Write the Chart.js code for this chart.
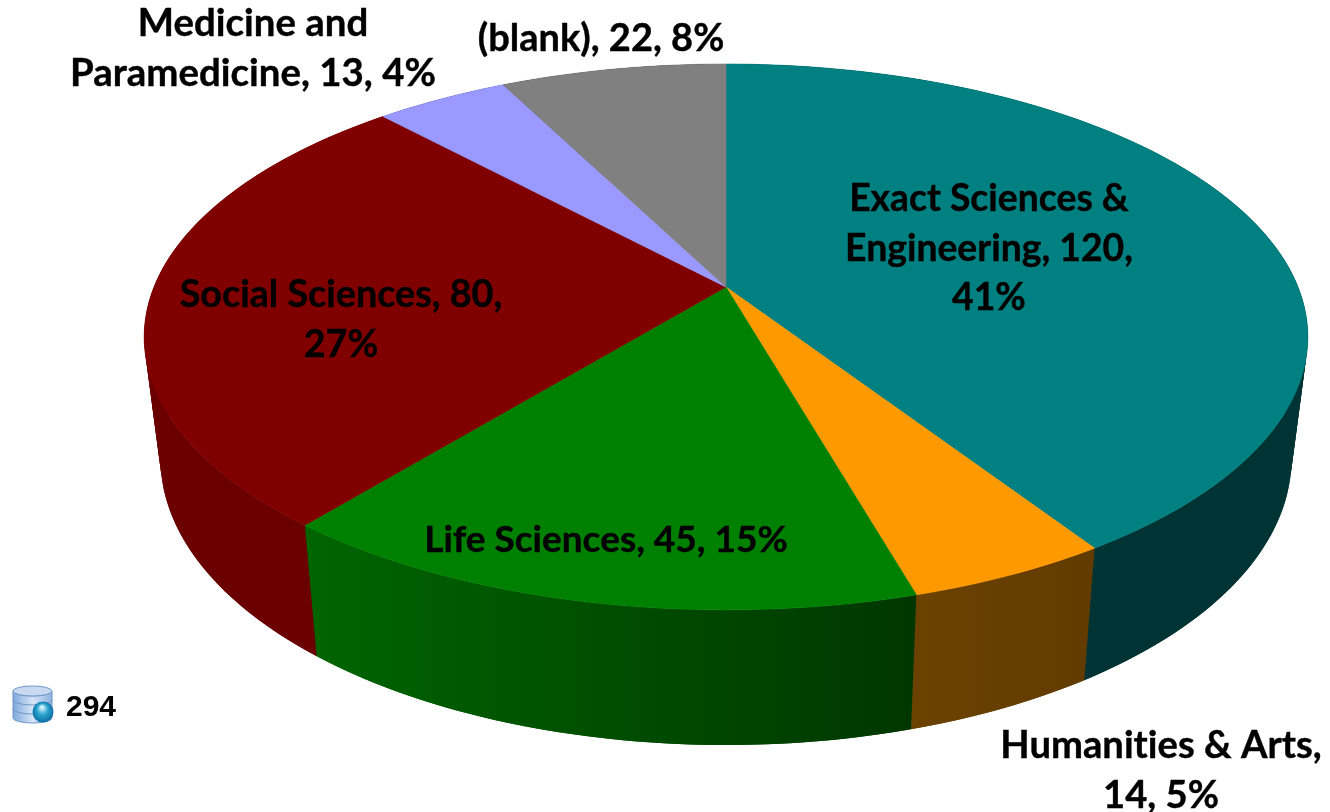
<!DOCTYPE html>
<html>
<head>
<meta charset="utf-8">
<title>Pie</title>
<script src="https://cdn.jsdelivr.net/npm/chart.js@4/dist/chart.umd.js"></script>
<style>
html, body { margin: 0; padding: 0; background: #fff; }
canvas { display: block; }
</style>
</head>
<body>
<canvas id="myChart" width="1330" height="812"></canvas>
<script>
const categories = ["Exact Sciences & Engineering", "Humanities & Arts", "Life Sciences", "Social Sciences", "Medicine and Paramedicine", "(blank)"];
const values = [120, 14, 45, 80, 13, 22];
const percents = [41, 5, 15, 27, 4, 8];
const total = 294;

const topColors = ["#008080", "#ff9900", "#008000", "#800000", "#9999ff", "#808080"];
const sideLeft = ["#003333", "#6b4200", "#006400", "#6a0000", "#3d3d66", "#333333"];
const sideRight = ["#003333", "#623b00", "#003700", "#620000", "#3d3d66", "#333333"];

// label layout: centre x, first baseline, wrap width, font size
const labelX = [989, 1161, 606, 341, 253, 601];
const labelY = [211, 758, 552, 307, 36, 51];
const labelWrap = [320, 340, 400, 340, 385, 300];
const labelSize = [37.3, 38.2, 37, 37.7, 38.4, 38];

// perspective of the disc, fitted on the picture
const cx = 726, cy = 287, A = 572, B = 263.8, K = 0.183;

function project(a, frac, bottom) {
    const x = Math.cos(a) * frac, y = Math.sin(a) * frac;
    const w = 1 - K * y;
    const px = A * x / w, py = B * y / w;
    if (bottom) return [cx + px * 0.972, 406 + py * 1.05];
    return [cx + px, cy + py];
}

function wrapLine(ctx, text, maxW) {
    const lines = [];
    let cur = "";
    text.split(" ").forEach(function (word) {
        const t = cur ? cur + " " + word : word;
        if (ctx.measureText(t).width > maxW && cur) {
            lines.push(cur);
            cur = word;
        } else {
            cur = t;
        }
    });
    lines.push(cur);
    return lines;
}

function drawIcon(ctx) {
    const x0 = 13, x1 = 52, mid = 32.5, rx = 19.5, ry = 5;
    const g = ctx.createLinearGradient(x0, 0, x1, 0);
    g.addColorStop(0, "#7ea9dc");
    g.addColorStop(0.5, "#d6e4f6");
    g.addColorStop(1, "#8db2e0");
    [708, 699, 691].forEach(function (y, i) {
        const h = i == 2 ? 9 : 10;
        ctx.beginPath();
        ctx.ellipse(mid, y + h, rx, ry, 0, 0, Math.PI);
        ctx.lineTo(x0, y);
        ctx.ellipse(mid, y, rx, ry, 0, Math.PI, 0, true);
        ctx.closePath();
        ctx.fillStyle = g;
        ctx.fill();
        ctx.strokeStyle = "#6f97c8";
        ctx.lineWidth = 1;
        ctx.stroke();
    });
    ctx.beginPath();
    ctx.ellipse(mid, 691, rx, ry, 0, 0, Math.PI * 2);
    ctx.fillStyle = "#c9daf0";
    ctx.fill();
    ctx.strokeStyle = "#6f97c8";
    ctx.stroke();
    const gl = ctx.createRadialGradient(42, 707, 1, 43, 712, 11);
    gl.addColorStop(0, "#d8f4fb");
    gl.addColorStop(0.45, "#2ba6cf");
    gl.addColorStop(1, "#0b6aa3");
    ctx.beginPath();
    ctx.arc(43, 712, 10.5, 0, Math.PI * 2);
    ctx.fillStyle = gl;
    ctx.fill();
}

const pie3d = {
    id: "pie3d",
    beforeDatasetsDraw(chart) {
        const ctx = chart.ctx;
        const arcs = chart.getDatasetMeta(0).data;
        ctx.save();
        // side walls first, the top face covers what is behind
        arcs.forEach(function (arc, i) {
            const sweep = arc.endAngle - arc.startAngle;
            const steps = Math.max(8, Math.ceil(sweep * 60));
            const a = project(arc.startAngle, 1, true), b = project(arc.endAngle, 1, true);
            const g = ctx.createLinearGradient(Math.min(a[0], b[0]), 0, Math.max(a[0], b[0]), 0);
            g.addColorStop(0, sideLeft[i]);
            g.addColorStop(1, sideRight[i]);
            ctx.fillStyle = g;
            for (let s = 0; s < steps; s++) {
                // each strip runs one step over so no seams show
                const a0 = arc.startAngle + sweep * s / steps, a1 = arc.startAngle + sweep * (s + 2) / steps;
                const p0 = project(a0, 1, false), p1 = project(a1, 1, false);
                const q0 = project(a0, 1, true), q1 = project(a1, 1, true);
                ctx.beginPath();
                ctx.moveTo(p0[0], p0[1]);
                ctx.lineTo(p1[0], p1[1]);
                ctx.lineTo(q1[0], q1[1]);
                ctx.lineTo(q0[0], q0[1]);
                ctx.closePath();
                ctx.fill();
            }
        });
        ctx.lineWidth = 0.6;
        arcs.forEach(function (arc, i) {
            const sweep = arc.endAngle - arc.startAngle;
            const steps = Math.max(8, Math.ceil(sweep * 60));
            ctx.beginPath();
            ctx.moveTo(cx, cy);
            for (let s = 0; s <= steps; s++) {
                const p = project(arc.startAngle + sweep * s / steps, 1, false);
                ctx.lineTo(p[0], p[1]);
            }
            ctx.closePath();
            ctx.fillStyle = topColors[i];
            ctx.strokeStyle = topColors[i];
            ctx.fill();
            ctx.stroke();
        });
        ctx.restore();
        return false;
    },
    afterDraw(chart) {
        const ctx = chart.ctx;
        ctx.save();
        ctx.fillStyle = "#000";
        ctx.strokeStyle = "#000";
        ctx.lineWidth = 0.4;
        ctx.textAlign = "center";
        ctx.textBaseline = "alphabetic";
        ctx.letterSpacing = "0.01px";
        categories.forEach(function (c, i) {
            const text = c + ", " + values[i] + ", " + percents[i] + "%";
            ctx.font = "bold " + labelSize[i] + "px Lato";
            wrapLine(ctx, text, labelWrap[i]).forEach(function (line, n) {
                ctx.fillText(line, labelX[i], labelY[i] + n * 49.5);
                ctx.strokeText(line, labelX[i], labelY[i] + n * 49.5);
            });
        });
        ctx.letterSpacing = "0px";
        drawIcon(ctx);
        ctx.textAlign = "left";
        ctx.fillStyle = "#000";
        ctx.font = "bold 30px 'Liberation Sans'";
        ctx.fillText(String(total), 66, 716);
        ctx.restore();
    }
};

new Chart("myChart", {
    type: "pie",
    data: {
        labels: categories,
        datasets: [{
            data: values,
            backgroundColor: topColors,
            borderWidth: 0
        }]
    },
    options: {
        responsive: false,
        animation: false,
        plugins: {
            legend: { display: false },
            tooltip: { enabled: false }
        }
    },
    plugins: [pie3d]
});
</script>
</body>
</html>
